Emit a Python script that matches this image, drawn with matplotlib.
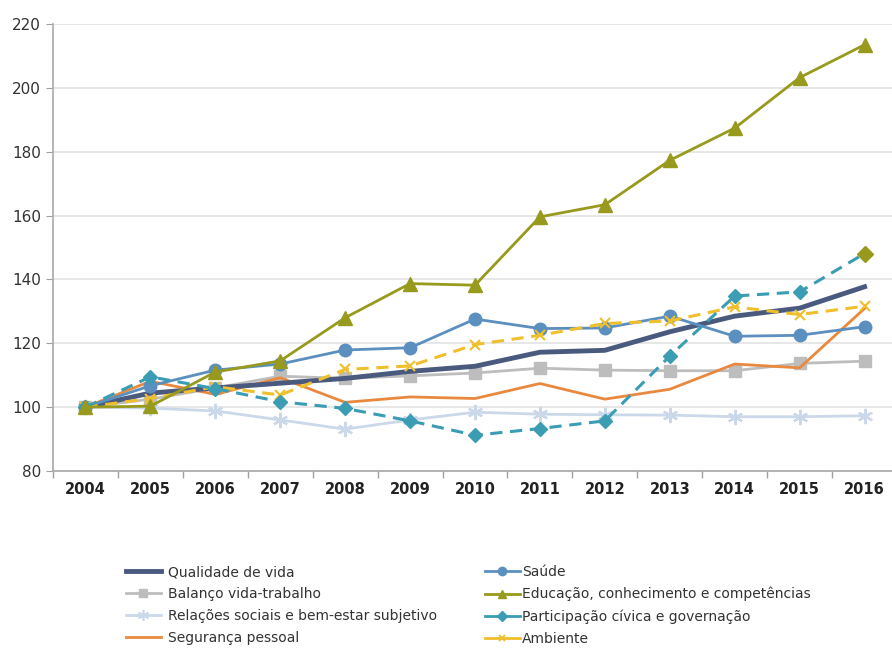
import matplotlib.pyplot as plt
from matplotlib.lines import Line2D

years = [str(y) for y in range(2004, 2017)]

qualidade = [100, 104.4, 106, 107.5, 109, 111.2, 112.8, 117.2, 117.8, 123.6, 128.5, 131, 137.7]
balanco = [100, 102.5, 106, 109.7, 109, 109.8, 110.7, 112.2, 111.6, 111.4, 111.4, 113.7, 114.4]
relacoes = [100, 99.7, 98.8, 96, 93.1, 96, 98.4, 97.8, 97.6, 97.5, 97, 97, 97.3]
seguranca = [100, 108.1, 104, 109.2, 101.5, 103.2, 102.7, 107.4, 102.5, 105.6, 113.5, 112.3, 130.9]
saude = [100, 106.7, 111.6, 113.5, 117.9, 118.6, 127.6, 124.6, 124.8, 128.5, 122.2, 122.5, 125.2]
educacao = [100, 100.3, 111, 114.5, 128, 138.7, 138.2, 159.6, 163.4, 177.3, 187.4, 203.2, 213.5]
participacao = [100, 109.5, 105.8, 101.7, 99.6, 95.7, 91.2, 93.3, 95.7, 116, 134.8, 136.1, 148.1]
ambiente = [100, 102.7, 106.4, 103.8, 111.8, 112.9, 119.6, 122.5, 126.2, 127, 131.4, 129, 131.6]

c_qual = "#4a5a7e"
c_bal = "#bdbdbd"
c_rel = "#cbd8ea"
c_seg = "#e8893f"
c_sau = "#5b8fbf"
c_edu = "#979a1c"
c_par = "#3a9db3"
c_amb = "#f0bf2c"

plt.rcParams['font.family'] = ['DejaVu Sans']

fig = plt.figure(figsize=(8.92, 6.48), dpi=100)
ax = fig.add_axes([53 / 892, 1 - 471 / 648, 844 / 892, 447 / 648])

x = list(range(len(years)))

ax.plot(x, relacoes, color=c_rel, lw=2, marker=(6, 2, 0), ms=11, mew=1.6, zorder=2)
ax.plot(x, balanco, color=c_bal, lw=2, marker='s', ms=9, zorder=3)
ax.plot(x, seguranca, color=c_seg, lw=2, zorder=4)
ax.plot(x, qualidade, color=c_qual, lw=3.5, zorder=5)
ax.plot(x, saude, color=c_sau, lw=2, marker='o', ms=9, zorder=6)
ax.plot(x, ambiente, color=c_amb, lw=2.2, ls=(0, (4, 2.5)), marker='x', ms=7, mew=1.5, zorder=7)
ax.plot(x, participacao, color=c_par, lw=2.2, ls=(0, (4, 2.5)), marker='D', ms=7, zorder=8)
# last point of this series carries the olive marker
ax.plot(x[-1:], participacao[-1:], ls='none', marker='D', ms=8, color=c_edu, zorder=9)
ax.plot(x, educacao, color=c_edu, lw=2, marker='^', ms=9.5, zorder=9)

ax.set_xlim(-0.5, len(years) - 0.5)
ax.set_ylim(80, 220)
ax.set_yticks(range(80, 221, 20))
ax.set_xticks(x)
ax.set_xticklabels(years, fontweight='bold', fontsize=10.5, color='#222222')
ax.set_xticks([i - 0.5 for i in range(len(years) + 1)], minor=True)
ax.tick_params(axis='x', which='major', length=0, pad=8)
ax.tick_params(axis='x', which='minor', length=5, color='#a0a0a0', width=1)
ax.tick_params(axis='y', length=5, labelsize=11, colors='#a0a0a0', labelcolor='#333333')

ax.grid(axis='y', color='#e3e3e3', lw=1.2)
ax.set_axisbelow(True)
for s in ['top', 'right']:
    ax.spines[s].set_visible(False)
for s in ['left', 'bottom']:
    ax.spines[s].set_color('#a8a8a8')
    ax.spines[s].set_linewidth(1.2)

left_handles = [
    Line2D([], [], color=c_qual, lw=3.5),
    Line2D([], [], color=c_bal, lw=2, marker='s', ms=6),
    Line2D([], [], color=c_rel, lw=2, marker=(6, 2, 0), ms=8, mew=1.2),
    Line2D([], [], color=c_seg, lw=2),
]
left_labels = ["Qualidade de vida", "Balanço vida-trabalho",
               "Relações sociais e bem-estar subjetivo", "Segurança pessoal"]
right_handles = [
    Line2D([], [], color=c_sau, lw=2, marker='o', ms=6),
    Line2D([], [], color=c_edu, lw=2, marker='^', ms=6),
    Line2D([], [], color=c_par, lw=2, marker='D', ms=5),
    Line2D([], [], color=c_amb, lw=2, marker='x', ms=5, mew=1.3),
]
right_labels = ["Saúde", "Educação, conhecimento e competências",
                "Participação cívica e governação", "Ambiente"]

legend_kw = dict(loc='upper left', frameon=False, fontsize=10, handlelength=2.5,
                 labelspacing=0.57, borderaxespad=0, borderpad=0)
leg1 = fig.legend(left_handles, left_labels, bbox_to_anchor=(126 / 892, 1 - 565 / 648),
                  handletextpad=0.55, **legend_kw)
leg2 = fig.legend(right_handles, right_labels, bbox_to_anchor=(485 / 892, 1 - 565 / 648),
                  handletextpad=0.15, **legend_kw)
for leg in (leg1, leg2):
    for t in leg.get_texts():
        t.set_color('#333333')

fig.savefig("out.png", dpi=100)
